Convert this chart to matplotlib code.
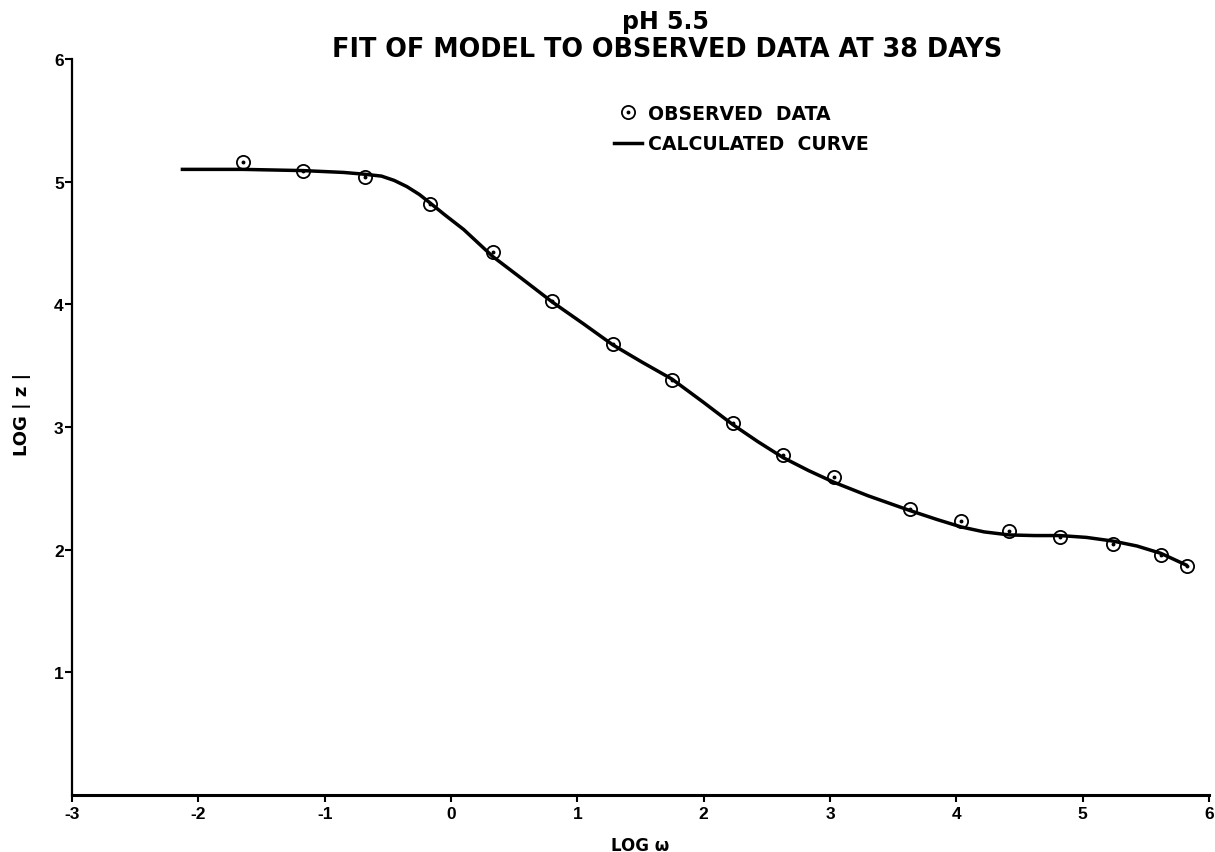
import matplotlib
matplotlib.use("Agg")
import matplotlib.pyplot as plt
from matplotlib.lines import Line2D

plt.rcParams['font.family'] = ['Liberation Sans', 'DejaVu Sans']
plt.rcParams['font.weight'] = 'bold'
plt.rcParams['axes.unicode_minus'] = False

# observed data (log omega, log |z|)
obs_x = [-1.65, -1.17, -0.68, -0.17, 0.33, 0.80, 1.28, 1.75, 2.23, 2.63,
         3.03, 3.63, 4.04, 4.42, 4.82, 5.24, 5.62, 5.83]
obs_y = [5.16, 5.09, 5.04, 4.82, 4.43, 4.03, 3.68, 3.38, 3.03, 2.77,
         2.59, 2.33, 2.23, 2.15, 2.10, 2.05, 1.96, 1.87]

# calculated curve
calc_x = [-2.14, -1.65, -1.17, -0.85, -0.68, -0.55, -0.45, -0.35, -0.25, -0.17,
          -0.05, 0.10, 0.33, 0.56, 0.80, 1.05, 1.28, 1.51, 1.75, 2.00,
          2.23, 2.43, 2.63, 2.83, 3.03, 3.30, 3.63, 3.85, 4.04, 4.22,
          4.42, 4.62, 4.82, 5.03, 5.24, 5.43, 5.62, 5.83]
calc_y = [5.10, 5.10, 5.09, 5.075, 5.06, 5.045, 5.01, 4.96, 4.895, 4.83,
          4.73, 4.61, 4.39, 4.21, 4.02, 3.84, 3.67, 3.53, 3.39, 3.20,
          3.02, 2.88, 2.75, 2.645, 2.55, 2.44, 2.32, 2.245, 2.185, 2.145,
          2.12, 2.115, 2.115, 2.10, 2.07, 2.03, 1.97, 1.87]

xticks = [-3, -2, -1, 0, 1, 2, 3, 4, 5, 6]
yticks = [1, 2, 3, 4, 5, 6]

fig = plt.figure(figsize=(12.15, 8.53), dpi=100)
ax = fig.add_axes([0.0593, 0.0668, 0.9357, 0.8629])

ax.plot(calc_x, calc_y, color='black', lw=2.5, solid_capstyle='butt',
        solid_joinstyle='round')
ax.plot(obs_x, obs_y, ls='none', marker='o', ms=9.5, mfc='none',
        mec='black', mew=1.3)
ax.plot(obs_x, obs_y, ls='none', marker='o', ms=1.8, color='black')

ax.set_xlim(-3, 6)
ax.set_ylim(0, 6)
ax.set_xticks(xticks)
ax.set_yticks(yticks)
ax.tick_params(axis='both', labelsize=12.5, width=1.5, direction='out')
ax.tick_params(axis='x', length=5, pad=3)
ax.tick_params(axis='y', length=5, pad=1)
for lab in ax.get_xticklabels() + ax.get_yticklabels():
    lab.set_fontweight('bold')

for s in ['top', 'right']:
    ax.spines[s].set_visible(False)
ax.spines['left'].set_linewidth(1.6)
ax.spines['bottom'].set_linewidth(2.2)

wide = ['DejaVu Sans']
ax.set_xlabel('LOG \u03c9', fontsize=12, fontweight='bold', family=wide)
ax.xaxis.set_label_coords(0.5, -0.055)
ax.set_ylabel('LOG | z |', fontsize=13, fontweight='bold', family=wide)
ax.yaxis.set_label_coords(-0.036, 0.518)

fig.text(0.548, 1 - 29 / 853, 'pH 5.5', ha='center', va='baseline',
         fontsize=17, fontweight='bold', family=wide)
fig.text(0.549, 1 - 57 / 853, 'FIT OF MODEL TO OBSERVED DATA AT 38 DAYS',
         ha='center', va='baseline', fontsize=18.4, fontweight='bold', family=wide)

h_obs = (Line2D([], [], ls='none', marker='o', ms=9.5, mfc='none', mec='black', mew=1.3),
         Line2D([], [], ls='none', marker='o', ms=1.8, color='black'))
h_calc = Line2D([], [], color='black', lw=2.5)
fig.legend([h_obs, h_calc], ['OBSERVED  DATA', 'CALCULATED  CURVE'],
           loc='upper left', bbox_to_anchor=(614 / 1215, 1 - 105 / 853),
           frameon=False, borderpad=0, borderaxespad=0, handlelength=1.5,
           handletextpad=0.3, labelspacing=0.6,
           prop={'size': 13.6, 'weight': 'bold', 'family': wide})

fig.savefig('out.png', dpi=100)
